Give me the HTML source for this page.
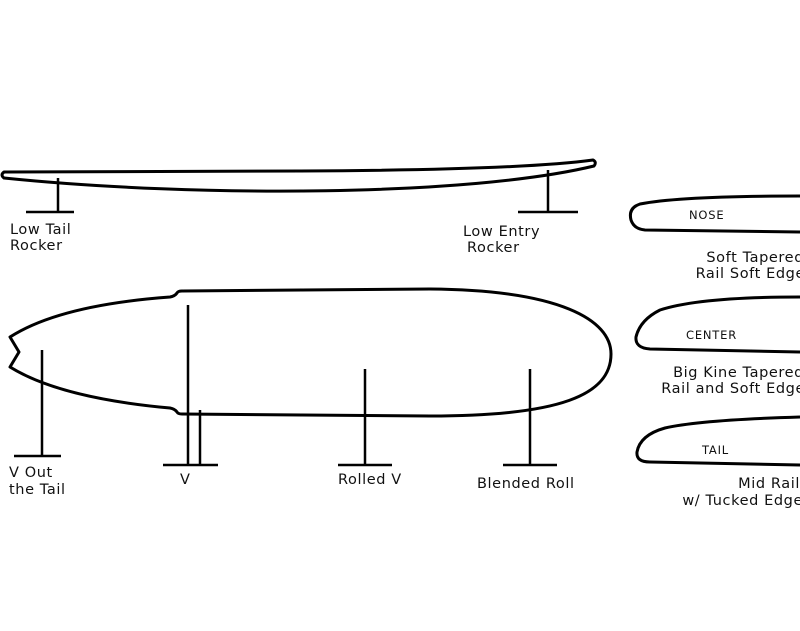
<!DOCTYPE html>
<html><head><style>html,body{margin:0;padding:0;background:#fff;width:800px;height:631px;overflow:hidden}</style></head>
<body>
<svg width="800" height="631" viewBox="0 0 800 631" xmlns="http://www.w3.org/2000/svg" font-family="DejaVu Sans, sans-serif" font-size="14.5" letter-spacing="0.6" fill="#111">
<g fill="none" stroke="#000" stroke-width="3" stroke-linejoin="round">
<path d="M4 172 L300 171 Q520 170 593 160 Q597 162 594 166 C470 196 200 198 4 178 Q0 175 4 172 Z"/>
<path d="M10 337 Q60 305 170 297 Q175 296 177 293 Q178 291 182 291 L430 289 C560 290 611 320 611 354 C611 395 560 416 430 416 L182 414 Q178 414 177 412 Q175 409 170 408 Q60 398 10 367 L19 352 Z"/>
<path d="M800 196 Q680 196 640 204 Q628 208 631 220 Q634 229 645 230 L800 232"/>
<path d="M800 297 Q700 297 660 310 Q640 320 636 337 Q635 348 650 349 L800 352"/>
<path d="M800 417 Q700 420 665 428 Q640 435 637 452 Q636 462 650 462 L800 465"/>
</g>
<g stroke="#000" stroke-width="2.5">
<line x1="58" y1="178" x2="58" y2="212"/><line x1="26" y1="212" x2="74" y2="212"/>
<line x1="548" y1="170" x2="548" y2="212"/><line x1="518" y1="212" x2="578" y2="212"/>
<line x1="42" y1="350" x2="42" y2="456"/><line x1="14" y1="456" x2="61" y2="456"/>
<line x1="188" y1="305" x2="188" y2="465"/><line x1="200" y1="410" x2="200" y2="465"/><line x1="163" y1="465" x2="218" y2="465"/>
<line x1="365" y1="369" x2="365" y2="465"/><line x1="338" y1="465" x2="392" y2="465"/>
<line x1="530" y1="369" x2="530" y2="465"/><line x1="503" y1="465" x2="557" y2="465"/>
</g>
<text x="10" y="234">Low Tail</text><text x="10" y="250">Rocker</text>
<text x="463" y="236">Low Entry</text><text x="467" y="252">Rocker</text>
<text x="9" y="477">V Out</text><text x="9" y="494">the Tail</text>
<text x="180" y="484">V</text>
<text x="338" y="484">Rolled V</text>
<text x="477" y="488">Blended Roll</text>
<g font-size="11.5" letter-spacing="0.8"><text x="689" y="219">NOSE</text><text x="686" y="339">CENTER</text><text x="702" y="454">TAIL</text></g>
<g text-anchor="end"><text x="804" y="262">Soft Tapered</text><text x="805" y="278">Rail Soft Edge</text>
<text x="804" y="377">Big Kine Tapered</text><text x="805" y="393">Rail and Soft Edge</text>
<text x="800" y="488">Mid Rail</text><text x="803" y="505">w/ Tucked Edge</text></g>
</svg>
</body></html>
